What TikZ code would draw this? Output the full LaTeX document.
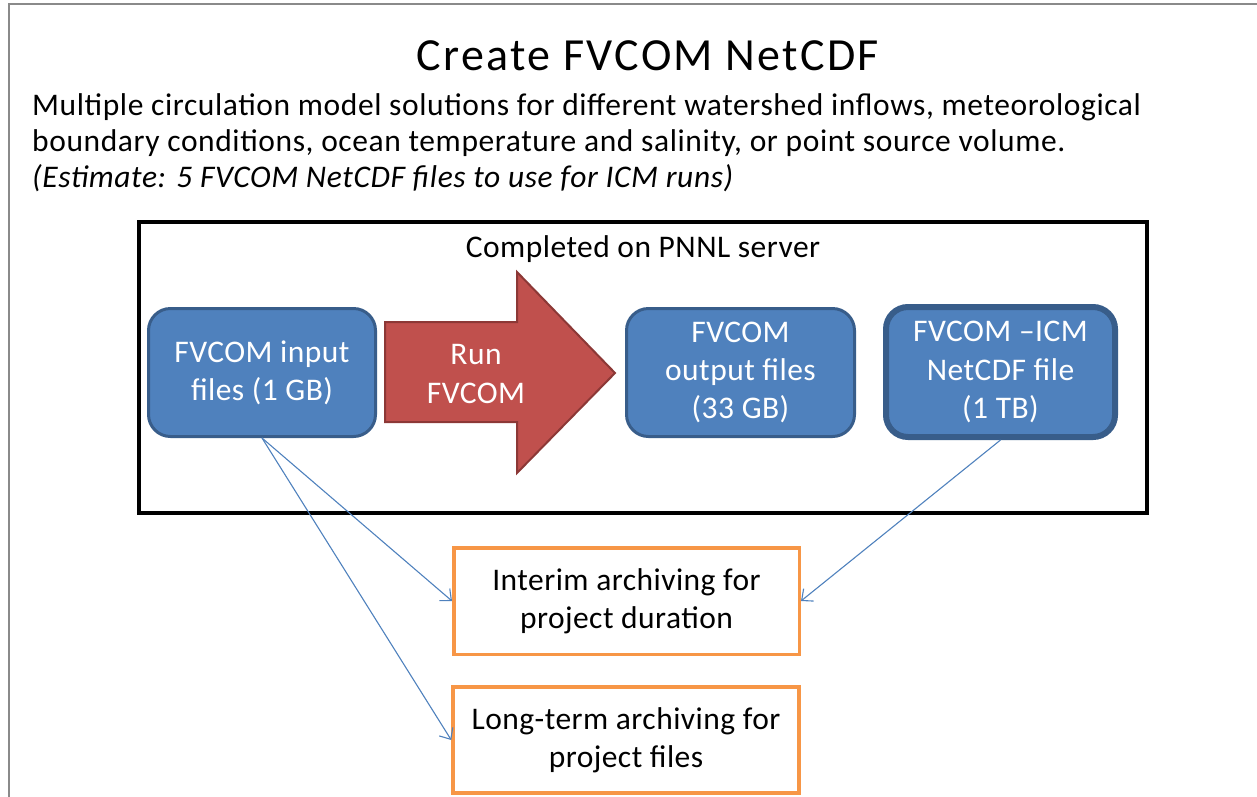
\documentclass[tikz,border=0pt]{standalone}
\usepackage{fontspec}
\setmainfont{Carlito}
\usetikzlibrary{arrows.meta}
\definecolor{boxblue}{HTML}{4F81BD}
\definecolor{boxedge}{HTML}{385D8A}
\definecolor{runred}{HTML}{C0504D}
\definecolor{runedge}{HTML}{8C3836}
\definecolor{archorange}{HTML}{F79646}
\definecolor{framegray}{HTML}{8A8A8A}
% size in px, then extra tracking (percent of the size)
\newcommand\settext[2]{\fontsize{#1}{1.21\dimexpr#1pt\relax}\selectfont\addfontfeature{LetterSpace=#2}}
\begin{document}
\begin{tikzpicture}[x=1pt,y=-1pt,
  filebox/.style={draw=boxedge, fill=boxblue, line width=3pt, rounded corners=22pt,
    text=white, align=center, inner sep=0pt, font=\settext{31.5}{1.5}},
  archbox/.style={draw=archorange, line width=3.5pt, align=center, inner sep=0pt,
    font=\settext{31.5}{1.5}},
  link/.style={draw=boxblue, line width=1.1pt, -{Straight Barb[length=9pt,width=16pt,line width=1.1pt]}},
  bodytext/.style={anchor=base west, inner sep=0pt, font=\settext{31.5}{1.9}}]
\useasboundingbox (0,0) rectangle (1257,796);
% page frame
\draw[framegray, line width=2pt] (9,797) -- (9,4) -- (1258,4);
% heading and description
\node[anchor=base, inner sep=0pt, font=\settext{46}{5}] (title) at (648,70) {Create FVCOM NetCDF};
\node[bodytext] (l1) at (32,115) {Multiple circulation model solutions for different watershed inflows, meteorological};
\node[bodytext] (l2) at (32,151) {boundary conditions, ocean temperature and salinity, or point source volume.};
\node[bodytext] (l3) at (32,187) {\itshape (Estimate: 5 FVCOM NetCDF files to use for ICM runs)};
% server frame
\draw[line width=4pt] (139,222) rectangle (1147,513);
\node[anchor=base, inner sep=0pt, font=\settext{31.5}{1.5}] (srv) at (643,257) {Completed on PNNL server};
% file boxes
\node[filebox, minimum width=227pt, minimum height=128pt] (in) at (262,372.5) {FVCOM input\\files (1 GB)};
\node[filebox, minimum width=228pt, minimum height=128pt] (out) at (740.5,372.5) {FVCOM\\output files\\(33 GB)};
\node[filebox, line width=6pt, minimum width=229pt, minimum height=130pt] (nc) at (1000.5,372) {FVCOM –ICM\\NetCDF file\\(1 TB)};
% run arrow
\draw[fill=runred, draw=runedge, line width=2pt, line join=miter]
  (385,322) -- (517,322) -- (517,272) -- (615,373) -- (517,473) -- (517,422) -- (385,422) -- cycle;
\node[text=white, align=center, inner sep=0pt, font=\settext{31.5}{1.5}] (run) at (476,374) {Run\\FVCOM};
% archive boxes
\node[archbox, minimum width=345.5pt, minimum height=106.5pt] (interim) at (626.5,601) {Interim archiving for\\project duration};
\node[archbox, minimum width=346pt, minimum height=106pt] (longterm) at (626,740) {Long-term archiving for\\project files};
% archive links
\draw[link] (in.south) -- (interim.west);
\draw[link] (in.south) -- (longterm.west);
\draw[link] (nc.south) -- (interim.east);
\end{tikzpicture}
\end{document}
